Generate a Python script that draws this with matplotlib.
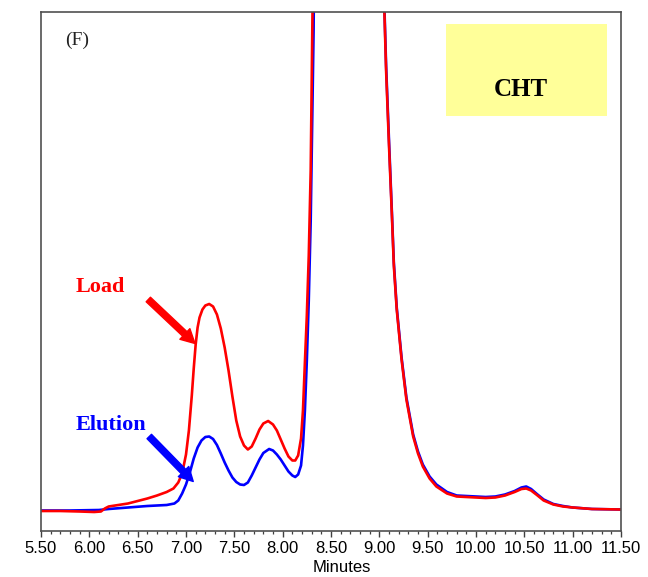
import matplotlib
matplotlib.use("Agg")
import matplotlib.pyplot as plt
from matplotlib.ticker import MultipleLocator, FormatStrFormatter
from matplotlib.patches import Rectangle

# ---- data (minutes, detector response, arbitrary units) ----
load_time = [5.50, 5.70, 5.90, 6.05, 6.12, 6.16, 6.20, 6.30, 6.40, 6.50, 6.60, 6.70, 6.80,
             6.87, 6.92, 6.96, 7.00, 7.03, 7.06, 7.08, 7.10, 7.12, 7.14, 7.17, 7.20, 7.24,
             7.28, 7.32, 7.36, 7.40, 7.44, 7.48, 7.52, 7.56, 7.60, 7.64, 7.68, 7.72, 7.76,
             7.80, 7.85, 7.90, 7.94, 7.98, 8.02, 8.06, 8.10, 8.13, 8.16, 8.19, 8.21, 8.23,
             8.25, 8.27, 8.29, 8.31, 8.35, 8.50, 8.70, 8.90, 9.00, 9.04, 9.07, 9.10, 9.13,
             9.15, 9.18, 9.23, 9.28, 9.35, 9.40, 9.45, 9.52, 9.59, 9.70, 9.80, 9.90, 10.00,
             10.10, 10.20, 10.30, 10.40, 10.47, 10.52, 10.57, 10.63, 10.70, 10.80, 10.90,
             11.00, 11.20, 11.50]
load_signal = [19.5, 19.5, 19, 18.5, 19, 22, 24, 25.5, 27, 29.5, 32, 35, 38.5,
               42, 48, 57, 76, 100, 135, 162, 186, 203, 213, 221, 225, 226.5,
               224, 216, 202, 183, 160, 134, 110, 94, 85, 81, 84, 92, 101,
               107, 109.5, 106, 100, 91, 82, 74, 70, 70, 75, 92, 120, 168,
               215, 275, 360, 530, 900, 1500, 1800, 1400, 800, 560, 460, 385, 315,
               265, 221, 171, 131, 94, 77, 64, 52, 44, 37, 34, 33.5, 33,
               32.5, 33, 35, 38.5, 41.5, 42, 40, 35.5, 30, 26, 24,
               23, 21.5, 21]

elution_time = [5.50, 5.80, 6.10, 6.20, 6.40, 6.60, 6.80, 6.88, 6.92, 6.96, 7.00, 7.04, 7.08,
                7.12, 7.16, 7.20, 7.24, 7.28, 7.32, 7.36, 7.40, 7.44, 7.48, 7.52, 7.56, 7.60,
                7.64, 7.68, 7.72, 7.76, 7.80, 7.86, 7.90, 7.94, 7.98, 8.02, 8.06, 8.10, 8.13,
                8.16, 8.19, 8.21, 8.23, 8.25, 8.27, 8.29, 8.32, 8.35, 8.50, 8.70, 8.90, 9.00,
                9.04, 9.07, 9.10, 9.13, 9.15, 9.18, 9.23, 9.28, 9.35, 9.40, 9.45, 9.52, 9.59,
                9.70, 9.80, 9.90, 10.00, 10.10, 10.20, 10.30, 10.40, 10.47, 10.52, 10.57, 10.63,
                10.70, 10.80, 10.90, 11.00, 11.20, 11.50]
elution_signal = [20, 20, 20.5, 21.5, 23, 24.5, 25.5, 27, 30, 37, 46, 58, 72,
                  83, 90, 93.5, 94, 91.5, 85.5, 77, 68, 60, 53, 48.5, 46, 45.5,
                  48, 55, 63, 71, 77.5, 81.5, 80, 76, 71, 65, 59, 55, 53.5,
                  56, 65, 85, 120, 170, 230, 310, 500, 900, 1500, 1800, 1400, 800,
                  565, 465, 390, 318, 268, 223, 173, 133, 96, 79, 66, 54, 46,
                  38.5, 35, 34.5, 34, 33.5, 34, 36, 39.5, 43, 44, 41.5, 36.5,
                  31, 26.5, 24.5, 23, 21.5, 21]

x_ticks = [5.5, 6.0, 6.5, 7.0, 7.5, 8.0, 8.5, 9.0, 9.5, 10.0, 10.5, 11.0, 11.5]
x_label = "Minutes"
panel_label = "(F)"
box_label = "CHT"
load_label = "Load"
elution_label = "Elution"

# ---- figure ----
fig = plt.figure(figsize=(6.48, 5.77), dpi=100)
ax = fig.add_axes([41 / 648, 1 - 530.5 / 577, 580 / 648, 518.5 / 577])

ax.plot(elution_time, elution_signal, color="#0000FF", lw=1.9, solid_joinstyle="round")
ax.plot(load_time, load_signal, color="#FF0000", lw=1.9, solid_joinstyle="round")

ax.set_xlim(5.5, 11.5)
ax.set_ylim(0, 518.5)
ax.set_xticks(x_ticks)
ax.xaxis.set_major_formatter(FormatStrFormatter("%.2f"))
ax.xaxis.set_minor_locator(MultipleLocator(0.1))
ax.set_yticks([])
ax.tick_params(axis="x", which="major", direction="out", length=4, width=1.0,
               color="#404040", pad=3.5, labelsize=12)
ax.tick_params(axis="x", which="minor", direction="out", length=2.2, width=0.9,
               color="#404040")
for lab in ax.get_xticklabels():
    lab.set_fontfamily("Liberation Sans")
for sp in ax.spines.values():
    sp.set_color("#505050")
    sp.set_linewidth(1.2)

ax.set_xlabel(x_label, fontsize=12, family="Liberation Sans")
ax.xaxis.set_label_coords((342 - 41) / 580, -0.056)

# panel label
ax.text(5.745, 486, panel_label, fontsize=14, family="Liberation Serif",
        color="#222222", ha="left", va="baseline")

# CHT box
ax.add_patch(Rectangle((0.698, 0.7994), 0.278, 0.1775, transform=ax.transAxes,
                       facecolor="#FFFF99", edgecolor="none", zorder=1))
ax.text(0.8276, 0.8496, box_label, transform=ax.transAxes, fontsize=18,
        fontweight="bold", family="Liberation Serif", ha="center", va="center", zorder=2)

# Load / Elution labels and arrows
ax.text(5.862, 239, load_label, fontsize=16, fontweight="bold", family="Liberation Serif",
        color="#FF0000", ha="left", va="baseline")
ax.text(5.862, 101, elution_label, fontsize=16, fontweight="bold", family="Liberation Serif",
        color="#0000FF", ha="left", va="baseline")

arrow_style = "simple,head_length=1.0,head_width=1.05,tail_width=0.45"
ax.annotate("", xy=(7.093, 187), xytext=(6.61, 231),
            arrowprops=dict(arrowstyle=arrow_style, color="#FF0000", shrinkA=0, shrinkB=0))
ax.annotate("", xy=(7.075, 49), xytext=(6.62, 94),
            arrowprops=dict(arrowstyle=arrow_style, color="#0000FF", shrinkA=0, shrinkB=0))

fig.savefig("out.png", dpi=100)
